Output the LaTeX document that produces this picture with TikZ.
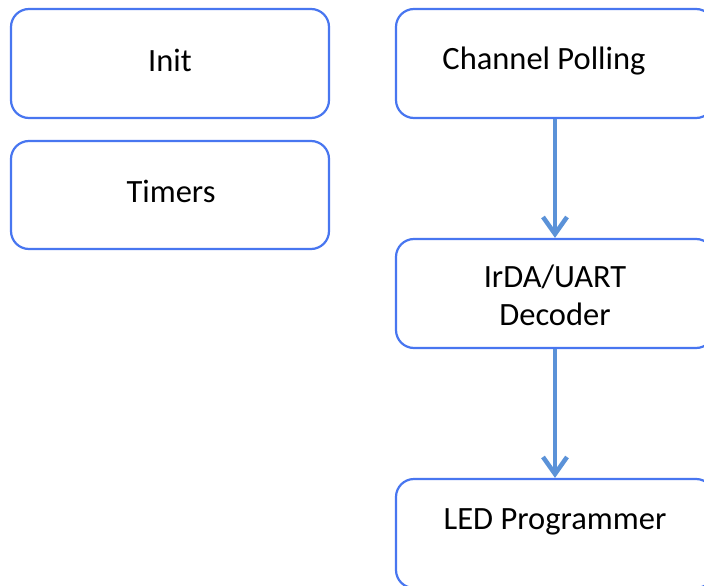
\documentclass[tikz,border=0pt]{standalone}
\usepackage{fontspec}
\setmainfont{Carlito}
\usetikzlibrary{arrows.meta}
\definecolor{boxblue}{RGB}{72,118,240}
\definecolor{flowblue}{RGB}{91,146,216}
\tikzset{
  block/.style={draw=boxblue, line width=2.2pt, rounded corners=18pt,
    minimum width=318pt, inner sep=0pt, fill=white},
  label/.style={anchor=base, inner sep=0pt, font=\fontsize{32.5}{38}\selectfont},
  flow/.style={draw=flowblue, line width=4.5pt,
    -{Straight Barb[length=17pt,width=24pt,line width=4.5pt]}}
}
\begin{document}
\begin{tikzpicture}[x=1pt,y=-1pt]
  \useasboundingbox (0,0) rectangle (704,586);
  \clip (0,0) rectangle (704,586);
  \fill[white] (0,0) rectangle (704,586);

  % left column
  \node[block, minimum height=109pt] (init)   at (170,63.5) {};
  \node[block, minimum height=108pt] (timers) at (170,195)  {};
  % right column
  \node[block, minimum height=109pt] (poll) at (555,63.5)  {};
  \node[block, minimum height=109pt] (dec)  at (555,293.5) {};
  \node[block, minimum height=109pt] (led)  at (555,533.5) {};

  % texts
  \node[label] (tinit)   at (170,71)  {Init};
  \node[label] (ttimers) at (171,202) {Timers};
  \node[label] (tpoll)   at (544,70)  {Channel Polling};
  \node[label] (tdec1)   at (555,287) {IrDA/UART};
  \node[label] (tdec2)   at (555,325) {Decoder};
  \node[label] (tled)    at (555,529) {LED Programmer};

  % flow
  \draw[flow] (poll.south) -- (dec.north);
  \draw[flow] (dec.south) -- (led.north);
\end{tikzpicture}
\end{document}
